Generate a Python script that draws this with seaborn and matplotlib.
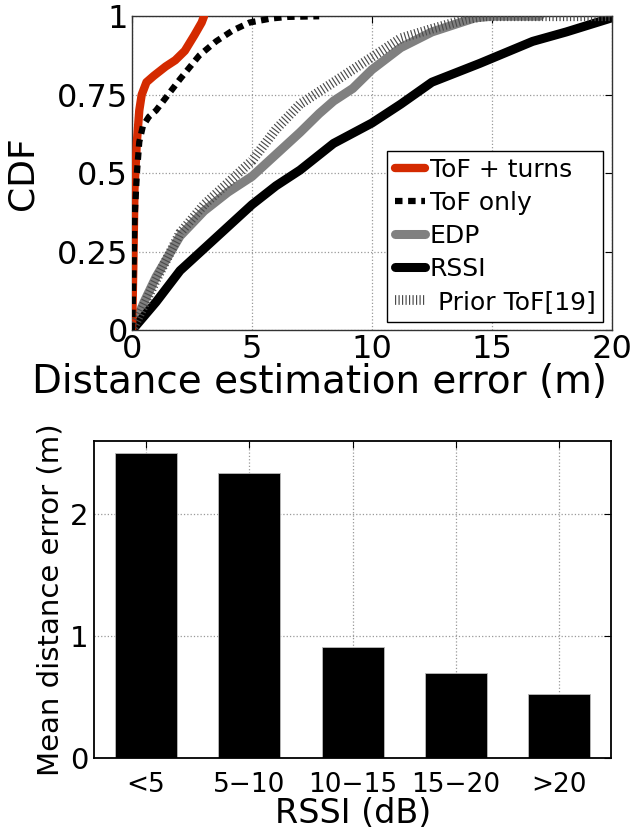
import numpy as np
import pandas as pd
import matplotlib
matplotlib.use("Agg")
import matplotlib.pyplot as plt
import seaborn as sns

# CDF curves (distance error in m, CDF value)
tof_turns_x = [0, 0.05, 0.1, 0.2, 0.3, 0.4, 0.6, 0.9, 1.4, 1.8, 2.2, 2.6, 2.9, 3.0]
tof_turns_y = [0, 0.2, 0.45, 0.6, 0.7, 0.75, 0.79, 0.81, 0.84, 0.86, 0.89, 0.94, 0.98, 1.0]

tof_only_x = [0, 0.05, 0.1, 0.2, 0.3, 0.45, 0.7, 1.0, 1.5, 2.0, 2.8, 3.5, 4.2, 4.9, 5.8, 6.5, 7.8]
tof_only_y = [0, 0.15, 0.35, 0.5, 0.6, 0.65, 0.68, 0.70, 0.75, 0.80, 0.875, 0.92, 0.955, 0.98, 0.993, 0.998, 1.0]

edp_x = [0, 0.5, 1, 2, 3, 4, 5, 6, 7, 7.8, 8.4, 9.2, 10, 11.2, 12.5, 13.7, 14.3, 15, 17]
edp_y = [0, 0.09, 0.17, 0.30, 0.38, 0.44, 0.49, 0.56, 0.63, 0.69, 0.73, 0.77, 0.83, 0.90, 0.95, 0.98, 0.995, 1.0, 1.0]

rssi_x = [0, 1, 2, 3, 4, 5, 6, 7, 8.4, 10, 11.2, 12.5, 14.5, 16.7, 18.1, 20]
rssi_y = [0, 0.09, 0.19, 0.26, 0.33, 0.40, 0.46, 0.51, 0.595, 0.66, 0.72, 0.79, 0.85, 0.92, 0.95, 0.995]

prior_x = [0, 0.5, 1, 2, 3, 4, 5, 6, 7, 8.4, 9.7, 11.2, 12.5, 13.9, 14.7, 20]
prior_y = [0, 0.08, 0.16, 0.31, 0.40, 0.47, 0.54, 0.64, 0.72, 0.79, 0.855, 0.93, 0.96, 0.99, 1.0, 1.0]

# mean error per RSSI bucket
rssi_bins = ["<5", "5\u221210", "10\u221215", "15\u221220", ">20"]
mean_error = [2.50, 2.34, 0.91, 0.70, 0.53]

sns.set_style("white")
plt.rcParams["font.family"] = ["DejaVu Sans"]
plt.rcParams.update({"text.color": "black", "axes.labelcolor": "black",
                     "xtick.color": "black", "ytick.color": "black"})

fig = plt.figure(figsize=(6.32, 8.34), dpi=100)
ax1 = fig.add_axes([0.209, 0.604, 0.759, 0.3765])
ax2 = fig.add_axes([0.149, 0.091, 0.818, 0.380])

sns.lineplot(x=tof_turns_x, y=tof_turns_y, ax=ax1, color="#d42a00", lw=6,
             sort=False, estimator=None, label="ToF + turns", zorder=3)
sns.lineplot(x=tof_only_x, y=tof_only_y, ax=ax1, color="black", lw=4.5,
             sort=False, estimator=None, label="ToF only", zorder=4)
ax1.lines[-1].set_dashes((1.2, 0.9))
sns.lineplot(x=edp_x, y=edp_y, ax=ax1, color="#808080", lw=6.5,
             sort=False, estimator=None, label="EDP", zorder=2)
sns.lineplot(x=rssi_x, y=rssi_y, ax=ax1, color="black", lw=6.5,
             sort=False, estimator=None, label="RSSI", zorder=2)
sns.lineplot(x=prior_x, y=prior_y, ax=ax1, color="#4a4a4a", lw=7,
             sort=False, estimator=None, label=" Prior ToF[19]", zorder=3)
ax1.lines[-1].set_dashes((0.12, 0.24))
ax1.lines[-1].set_dash_capstyle("butt")

ax1.set_xlim(0, 20)
ax1.set_ylim(0, 1)
ax1.set_xticks([0, 5, 10, 15, 20])
ax1.set_xticklabels(["0", "5", "10", "15", "20"])
ax1.set_yticks([0, 0.25, 0.5, 0.75, 1])
ax1.set_yticklabels(["0", "0.25", "0.5", "0.75", "1"])
ax1.grid(True, ls=":", color="#999999", lw=0.9)
ax1.tick_params(direction="in", top=True, right=True, labelsize=23, length=5, pad=3)
ax1.set_xlabel("Distance estimation error (m)", fontsize=28)
ax1.xaxis.set_label_coords(0.39, -0.105)
ax1.set_ylabel("CDF", fontsize=26, labelpad=12)
for s in ax1.spines.values():
    s.set_color("#333333")
    s.set_linewidth(1.0)

leg = ax1.legend(loc="lower right", fontsize=18, handlelength=1.2, handletextpad=0.2,
                 labelspacing=0.36, borderpad=0.3, borderaxespad=0.35, fancybox=False,
                 framealpha=1, edgecolor="black")
leg.get_frame().set_linewidth(1.0)

df = pd.DataFrame({"rssi": rssi_bins, "err": mean_error})
sns.barplot(data=df, x="rssi", y="err", order=rssi_bins, color="black", width=0.6,
            edgecolor="#bbbbbb", linewidth=0.6, saturation=1, ax=ax2, zorder=2)
ax2.set_xlim(-0.5, 4.5)
ax2.set_ylim(0, 2.6)
ax2.set_yticks([0, 1, 2])
ax2.set_axisbelow(True)
ax2.grid(True, ls=":", color="#999999", lw=0.9)
ax2.tick_params(direction="in", top=True, right=True, length=5)
ax2.tick_params(axis="x", labelsize=19, pad=10)
ax2.tick_params(axis="y", labelsize=21, pad=4)
ax2.set_xlabel("RSSI (dB)", fontsize=24)
ax2.xaxis.set_label_coords(0.5, -0.122)
ax2.set_ylabel("Mean distance error (m)", fontsize=21, labelpad=4)
for s in ax2.spines.values():
    s.set_color("black")
    s.set_linewidth(1.3)

fig.savefig("out.png", dpi=100)
